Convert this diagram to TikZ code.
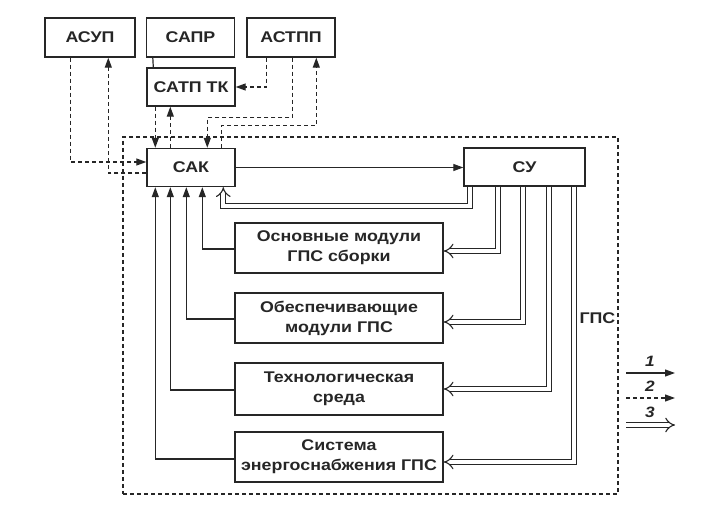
\documentclass[tikz,border=0pt]{standalone}
\usepackage{fontspec}
\setmainfont[FakeStretch=1.15]{Liberation Sans}
\usetikzlibrary{arrows.meta}
\definecolor{ink}{HTML}{262626}
\begin{document}
\begin{tikzpicture}[x=1pt,y=-1pt,
  every node/.style={text=ink},
  txt/.style={font=\fontsize{15.5}{20}\selectfont\bfseries},
  box/.style={draw=ink, line width=1.4pt, inner sep=0pt, align=center, txt},
  sig/.style={draw=ink, line width=1.2pt, -{Triangle[length=10pt,width=7pt]}},
  dsig/.style={sig, dash pattern=on 4pt off 3pt},
  plain/.style={draw=ink, line width=1.2pt},
  mat/.style={draw=ink, double=white, double distance=4pt, line width=1.1pt, -{Implies[scale=1.3]}}]
\useasboundingbox[fill=white] (0,0) rectangle (705,508);

% top boxes
\node[box, minimum width=90pt, minimum height=39pt] (asup) at (90,37.5) {АСУП};
\node[box, minimum width=88pt, minimum height=39pt] (sapr) at (190.5,37.5) {САПР};
\node[box, minimum width=88pt, minimum height=39pt] (astpp) at (291,37.5) {АСТПП};
\node[box, minimum width=88pt, minimum height=38pt] (satp) at (191,87) {САТП ТК};

% GPS frame
\node[draw=ink, line width=1.1pt, dash pattern=on 4pt off 3pt, minimum width=495pt, minimum height=357pt, inner sep=0pt] (gps) at (370.5,315.5) {};
\node[txt, anchor=east, inner sep=0pt] (gpslbl) at ([xshift=-3pt,yshift=-3pt]gps.east) {ГПС};

\node[box, minimum width=88pt, minimum height=38pt] (sak) at (191,167.5) {САК};
\node[box, minimum width=121pt, minimum height=38pt] (su) at (524.5,167) {СУ};

\node[box, minimum width=208pt, minimum height=50pt] (m1) at (339,248) {Основные модули\\ГПС сборки};
\node[box, minimum width=208pt, minimum height=50pt] (m2) at (339,318) {Обеспечивающие\\модули ГПС};
\node[box, minimum width=208pt, minimum height=52pt] (m3) at (339,389) {Технологическая\\среда};
\node[box, minimum width=208pt, minimum height=50pt] (m4) at (339,457) {Система\\энергоснабжения ГПС};

% connectors above SAK
\draw[plain] ([xshift=7pt]sapr.south west) -- ([xshift=7pt]satp.north west);
\draw[dsig] ([xshift=20pt]astpp.south west) |- (satp.east);
\draw[dsig] ([xshift=46pt]astpp.south west) -- ++(0,60) -| ([xshift=61pt]sak.north west);
\draw[dsig] ([xshift=75pt]sak.north west) -- ++(0,-22) -| ([xshift=70pt]astpp.south west);
\draw[dsig] ([xshift=9pt]satp.south west) -- ([xshift=9pt]sak.north west);
\draw[dsig] ([xshift=24pt]sak.north west) -- ([xshift=24pt]satp.south west);
\draw[dsig] ([xshift=26pt]asup.south west) |- ([yshift=5.5pt]sak.west);
\draw[dsig] ([yshift=-5.5pt]sak.west) -| ([xshift=64pt]asup.south west);

% SAK - SU
\draw[sig] (sak.east) -- (sak.east -| su.west);
\draw[mat] ([xshift=7pt]su.south west) -- ++(0,19) -| ([xshift=77pt]sak.south west);

% modules to SAK
\draw[sig] ([yshift=-1pt]m1.west) -| ([xshift=56pt]sak.south west);
\draw[sig] ([yshift=-1pt]m2.west) -| ([xshift=40pt]sak.south west);
\draw[sig] ([yshift=-1pt]m3.west) -| ([xshift=24pt]sak.south west);
\draw[sig] ([yshift=-2pt]m4.west) -| ([xshift=9pt]sak.south west);

% SU to modules
\draw[mat] ([xshift=35pt]su.south west) |- ([yshift=-3pt]m1.east);
\draw[mat] ([xshift=60pt]su.south west) |- ([yshift=-4pt]m2.east);
\draw[mat] ([xshift=86pt]su.south west) |- (m3.east);
\draw[mat] ([xshift=111pt]su.south west) |- ([yshift=-5pt]m4.east);

% legend
\coordinate (l1a) at (626,373); \coordinate (l1b) at (675,373);
\coordinate (l2a) at (626,398); \coordinate (l2b) at (675,398);
\coordinate (l3a) at (626,425); \coordinate (l3b) at (675,425);
\draw[sig] (l1a) -- (l1b);
\draw[dsig] (l2a) -- (l2b);
\draw[mat] (l3a) -- (l3b);
\node[txt, font=\fontsize{15}{18}\selectfont\itshape\bfseries] (n1) at (650,361) {1};
\node[txt, font=\fontsize{15}{18}\selectfont\itshape\bfseries] (n2) at (650,386) {2};
\node[txt, font=\fontsize{15}{18}\selectfont\itshape\bfseries] (n3) at (650,412) {3};
\end{tikzpicture}
\end{document}
